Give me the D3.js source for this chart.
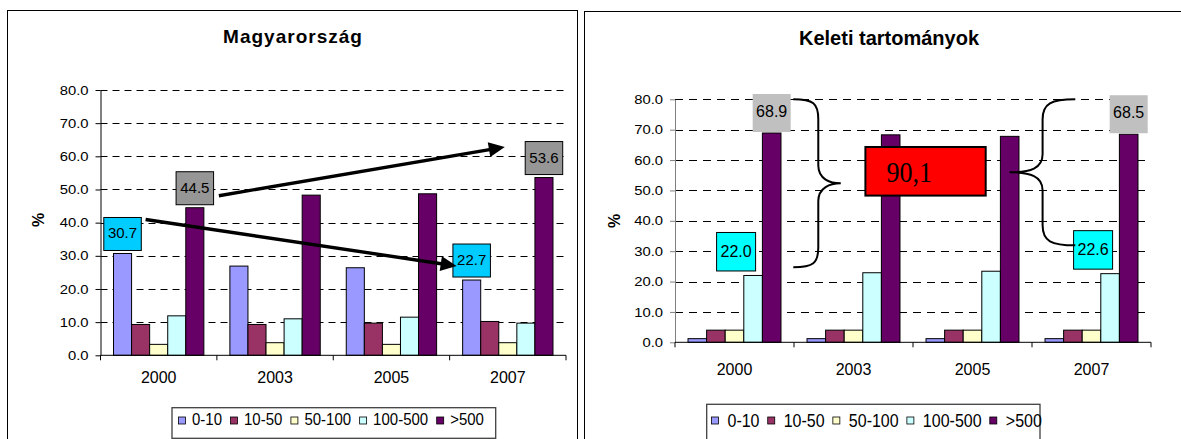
<!DOCTYPE html>
<html>
<head>
<meta charset="utf-8">
<script src="https://cdn.jsdelivr.net/npm/d3@7"></script>
<style>
  html, body { margin: 0; padding: 0; background: #fff; }
  svg { display: block; font-family: "Liberation Sans", Arial, sans-serif; }
</style>
</head>
<body>
<svg id="chart" width="1181" height="439"></svg>
<script>
// ---- data ----
const years = ["2000", "2003", "2005", "2007"];
const sizeClasses = ["0-10", "10-50", "50-100", "100-500", ">500"];
const classColors = ["#9999FF", "#993366", "#FFFFCC", "#CCFFFF", "#660066"];
const yTicks = [0, 10, 20, 30, 40, 50, 60, 70, 80];

// Magyarország (%)
const hu0_10    = [30.7, 26.9, 26.4, 22.7];
const hu10_50   = [9.3, 9.3, 9.7, 10.2];
const hu50_100  = [3.3, 3.8, 3.3, 3.8];
const hu100_500 = [11.9, 11.0, 11.5, 9.7];
const huOver500 = [44.5, 48.3, 48.7, 53.6];

// Keleti tartományok (%)
const east0_10    = [1.2, 1.2, 1.2, 1.2];
const east10_50   = [4.0, 4.0, 4.0, 4.0];
const east50_100  = [4.0, 4.0, 4.0, 4.0];
const east100_500 = [22.0, 22.9, 23.4, 22.6];
const eastOver500 = [68.9, 68.3, 67.8, 68.5];

const combinedShareText = "90,1";

// ---- helpers ----
const svg = d3.select("#chart");

// scale a text element around its own anchor point
function stretch(sel, sx, sy) {
  sel.each(function () {
    const t = d3.select(this);
    const x = +t.attr("x") || 0, y = +t.attr("y") || 0;
    t.attr("transform", `translate(${x},${y}) scale(${sx},${sy}) translate(${-x},${-y})`);
  });
}

function arrow(g, x1, y1, x2, y2) {
  const len = 16, half = 7.5, w = 3.4;
  const dx = x2 - x1, dy = y2 - y1, d = Math.hypot(dx, dy);
  const ux = dx / d, uy = dy / d;
  const bx = x2 - ux * len, by = y2 - uy * len;
  g.append("line").attr("x1", x1).attr("y1", y1).attr("x2", bx + ux * 2).attr("y2", by + uy * 2)
    .attr("stroke", "#000").attr("stroke-width", w);
  g.append("path")
    .attr("d", `M${x2},${y2}L${bx - uy * half},${by + ux * half}L${bx + uy * half},${by - ux * half}Z`)
    .attr("fill", "#000");
}

function drawChart(o) {
  const g = svg.append("g");

  g.append("rect").attr("x", o.frame[0]).attr("y", o.frame[1])
    .attr("width", o.frame[2]).attr("height", o.frame[3])
    .attr("fill", "#fff").attr("stroke", "#000").attr("stroke-width", 1);

  g.append("text").attr("x", o.titleX).attr("y", o.titleY)
    .attr("text-anchor", "middle").attr("font-weight", "bold")
    .attr("font-size", o.titleSize).attr("letter-spacing", o.titleSpacing)
    .text(o.title);

  const y = d3.scaleLinear().domain([0, 80]).range([o.y0, o.y80]);
  const x0 = d3.scaleBand().domain(years).range([o.xL, o.xR]);
  const x1 = d3.scaleBand().domain(sizeClasses).range([0, x0.bandwidth()]).paddingOuter(o.barPad);

  // dashed gridlines
  g.append("g").selectAll("line").data(yTicks.filter(d => d > 0)).join("line")
    .attr("x1", o.xL).attr("x2", o.xR)
    .attr("y1", d => Math.round(y(d)) + 0.5).attr("y2", d => Math.round(y(d)) + 0.5)
    .attr("stroke", "#000").attr("stroke-width", 1).attr("stroke-dasharray", o.dash);

  // bars
  const rows = years.map((yr, i) => ({ year: yr, values: o.series.map(s => s[i]) }));
  g.append("g").selectAll("g").data(rows).join("g")
    .attr("transform", d => `translate(${x0(d.year)},0)`)
    .selectAll("rect")
    .data(d => d.values.map((v, k) => ({ name: sizeClasses[k], v, color: classColors[k] })))
    .join("rect")
    .attr("x", d => x1(d.name)).attr("width", x1.bandwidth())
    .attr("y", d => y(d.v)).attr("height", d => y(0) - y(d.v))
    .attr("fill", d => d.color).attr("stroke", "#000").attr("stroke-width", 1);

  // y axis
  const ya = g.append("g").attr("transform", `translate(${o.xL},0)`)
    .call(d3.axisLeft(y).tickValues(yTicks).tickFormat(d3.format(".1f"))
      .tickSize(5).tickSizeOuter(0).tickPadding(7));
  ya.attr("font-size", null).attr("font-family", null);
  ya.select(".domain").attr("stroke", o.yAxisColor);
  ya.selectAll(".tick line").attr("stroke", o.yAxisColor);
  ya.selectAll(".tick text").attr("font-size", 13).attr("fill", "#000").call(stretch, 1.14, 1);

  // x axis: line, boundary ticks and centred year labels
  const yBase = y(0);
  g.append("line").attr("x1", o.xL).attr("x2", o.xR).attr("y1", yBase).attr("y2", yBase)
    .attr("stroke", "#000").attr("stroke-width", 1);
  g.append("g").selectAll("line").data(years.map(d => x0(d)).concat([o.xR])).join("line")
    .attr("x1", d => d).attr("x2", d => d).attr("y1", yBase).attr("y2", yBase + 5)
    .attr("stroke", "#000").attr("stroke-width", 1);
  const xa = g.append("g").attr("transform", `translate(0,${yBase})`)
    .call(d3.axisBottom(x0).tickSize(0).tickPadding(0));
  xa.attr("font-size", null).attr("font-family", null);
  xa.select(".domain").remove();
  xa.selectAll(".tick text").attr("font-size", 16).attr("fill", "#000")
    .attr("dy", null).attr("y", o.xLabelY).call(stretch, 1, 1.08);

  // axis title
  g.append("text").attr("transform", `translate(${o.pctX},${o.pctY}) rotate(-90)`)
    .attr("text-anchor", "middle").attr("dy", "0.35em")
    .attr("font-weight", "bold").attr("font-size", 16).text("%");

  // legend
  const lg = g.append("g");
  lg.append("rect").attr("x", o.leg.x).attr("y", o.leg.y).attr("width", o.leg.w).attr("height", o.leg.h)
    .attr("fill", "#fff").attr("stroke", "#404040").attr("stroke-width", 1.3);
  let cx = o.leg.x0;
  sizeClasses.forEach((n, k) => {
    lg.append("rect").attr("x", cx).attr("y", o.leg.swY).attr("width", 7).attr("height", 7)
      .attr("fill", classColors[k]).attr("stroke", "#000").attr("stroke-width", 0.8);
    const t = lg.append("text").attr("x", cx + 7 + o.leg.gap).attr("y", o.leg.textY)
      .attr("font-size", o.leg.size).text(n);
    const w = t.node().getComputedTextLength();
    t.call(stretch, 1, 1.15);
    cx += 7 + o.leg.gap + w + o.leg.gap2;
  });

  // value labels on selected bars
  const boxes = o.labels.map(lb => {
    const v = o.series[lb.s][lb.y];
    const cxm = x0(years[lb.y]) + x1(sizeClasses[lb.s]) + x1.bandwidth() / 2 + (lb.dx || 0);
    const bottom = y(v) - lb.gap;
    const b = { left: cxm - lb.w / 2, right: cxm + lb.w / 2, top: bottom - lb.h, bottom, cx: cxm };
    g.append("rect").attr("x", b.left).attr("y", b.top).attr("width", lb.w).attr("height", lb.h)
      .attr("fill", lb.fill).attr("stroke", lb.stroke ? "#000" : "none").attr("stroke-width", 1);
    g.append("text").attr("x", cxm).attr("y", b.top + lb.base).attr("text-anchor", "middle")
      .attr("font-size", lb.size).attr("fill", "#000").text(d3.format(".1f")(v));
    return b;
  });

  return { g, x0, x1, y, boxes };
}

// ---- Magyarország ----
const left = drawChart({
  frame: [7.5, 10.5, 570, 440],
  title: "Magyarország", titleX: 293, titleY: 43, titleSize: 19, titleSpacing: 1,
  xL: 100.5, xR: 566, y0: 355.3, y80: 90, barPad: 0.72, dash: "7,5",
  series: [hu0_10, hu10_50, hu50_100, hu100_500, huOver500],
  yAxisColor: "#000", xLabelY: 28, pctX: 38.5, pctY: 220,
  leg: { x: 172, y: 407.7, w: 323.7, h: 30.6, x0: 178.5, swY: 417, textY: 425.5, size: 15, gap: 6.5, gap2: 8.5 },
  labels: [
    { s: 0, y: 0, fill: "#00CCFF", stroke: true, w: 37.5, h: 33, gap: 3, base: 21, size: 15 },
    { s: 4, y: 0, fill: "#969696", stroke: true, w: 37.5, h: 33, gap: 3, base: 21, size: 15 },
    { s: 0, y: 3, fill: "#00CCFF", stroke: true, w: 37.5, h: 33, gap: 3, base: 21, size: 15 },
    { s: 4, y: 3, fill: "#969696", stroke: true, w: 37.5, h: 33, gap: 3, base: 21, size: 15 }
  ]
});

// trend arrows between the labelled bars
{
  const [b30, b44, b22, b53] = left.boxes;
  const ag = left.g.append("g");
  arrow(ag, b30.right + 4.3, b30.top + 2, b22.left + 3.7, b22.top + 22);
  arrow(ag, b44.right + 5.3, b44.bottom - 9, b53.left - 20.4, b53.top + 5.4);
}

// ---- Keleti tartományok ----
const right = drawChart({
  frame: [584.5, 11.5, 620, 440],
  title: "Keleti tartományok", titleX: 889, titleY: 44.5, titleSize: 20, titleSpacing: 0,
  xL: 675, xR: 1151, y0: 342.3, y80: 99.3, barPad: 0.70, dash: "8,6",
  series: [east0_10, east10_50, east50_100, east100_500, eastOver500],
  yAxisColor: "#808080", xLabelY: 32.3, pctX: 614, pctY: 221,
  leg: { x: 706.7, y: 404.3, w: 333.3, h: 50, x0: 711.5, swY: 417, textY: 427, size: 16, gap: 9, gap2: 8.2 },
  labels: [
    { s: 3, y: 0, fill: "#00FFFF", stroke: true, dx: -17, w: 39, h: 38.5, gap: 4.5, base: 24.5, size: 16 },
    { s: 4, y: 0, fill: "#C0C0C0", stroke: false, w: 38, h: 38, gap: 1, base: 23, size: 16 },
    { s: 3, y: 3, fill: "#00FFFF", stroke: true, dx: -17, w: 39, h: 38.5, gap: 4.5, base: 24.5, size: 16 },
    { s: 4, y: 3, fill: "#C0C0C0", stroke: false, w: 38, h: 38, gap: 1, base: 23, size: 16 }
  ]
});

// curly braces grouping the two largest classes, and the combined share
{
  const { g, x0, y, boxes } = right;
  const [b22, b689, b226, b685] = boxes;
  const bg = g.append("g").attr("fill", "none").attr("stroke", "#000").attr("stroke-width", 2);

  // "}" on the 2000 group
  {
    const x = b689.right + 2.6, xs = x + 25, xt = x + 47.5;
    const yt = y(80), yb = y(24.7), ym = (yt + yb) / 2;
    bg.append("path").attr("d",
      `M${x},${yt} C${x + 20},${yt} ${xs},${yt + 4} ${xs},${yt + 20}` +
      ` L${xs},${ym - 18} C${xs},${ym - 4} ${xs + 12},${ym} ${xt},${ym}` +
      ` C${xs + 12},${ym} ${xs},${ym + 4} ${xs},${ym + 18}` +
      ` L${xs},${yb - 20} C${xs},${yb - 4} ${x + 20},${yb} ${x},${yb}`);
  }
  // "{" on the 2007 group
  {
    const x = b226.left + 1.7, xs = x - 32.7, xt = x - 65.7;
    const yt = y(80), yb = b226.top + 14.7, ym = (yt + yb) / 2;
    bg.append("path").attr("d",
      `M${x},${yt} C${x - 24},${yt} ${xs},${yt + 4} ${xs},${yt + 20}` +
      ` L${xs},${ym - 18} C${xs},${ym - 4} ${xs - 12},${ym} ${xt},${ym}` +
      ` C${xs - 12},${ym} ${xs},${ym + 4} ${xs},${ym + 18}` +
      ` L${xs},${yb - 20} C${xs},${yb - 4} ${x - 24},${yb} ${x},${yb}`);
  }

  // combined share box
  const rx = x0("2003") + x0.bandwidth() * 0.6, rw = 120.3;
  const ry = y(64.3), rh = y(48.3) - y(64.3);
  g.append("rect").attr("x", rx).attr("y", ry).attr("width", rw).attr("height", rh)
    .attr("fill", "#FF0000").attr("stroke", "#000").attr("stroke-width", 2);
  g.append("text").attr("x", rx + 21).attr("y", ry + 35)
    .attr("font-family", "'Liberation Serif', 'Times New Roman', serif")
    .attr("font-size", 26).attr("fill", "#000").text(combinedShareText)
    .call(stretch, 1, 1.12);
}
</script>
</body>
</html>
